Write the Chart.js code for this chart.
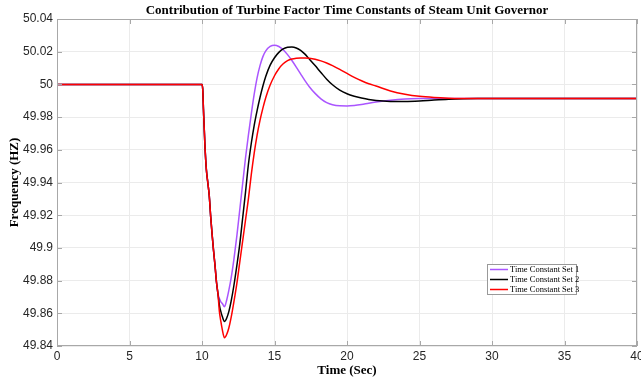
<!DOCTYPE html>
<html>
<head>
<meta charset="utf-8">
<script src="https://cdn.jsdelivr.net/npm/chart.js@4.4.1/dist/chart.umd.min.js"></script>
<style>
  html, body { margin: 0; padding: 0; background: #fff; }
</style>
</head>
<body>
<canvas id="graficaFrecuencia" width="641" height="382"></canvas>
<script>
// Datos
const titulo = "Contribution of Turbine Factor Time Constants of Steam Unit Governor";
const etiquetas = ["Time Constant Set 1", "Time Constant Set 2", "Time Constant Set 3"];
const colores = ["rgb(170, 85, 255)", "#000000", "#ff0000"];

const tiempo = [0, 10, 10.05, 10.1, 10.2, 10.3, 10.4, 10.5, 10.6, 10.7, 10.8, 10.9, 11.0, 11.1,
  11.2, 11.3, 11.4, 11.55, 11.7, 11.85, 12.0, 12.2, 12.4, 12.6, 12.8, 13.0, 13.2, 13.4, 13.6, 13.8,
  14.0, 14.2, 14.4, 14.7, 15.0, 15.3, 15.6, 15.9, 16.2, 16.5, 16.8, 17.1, 17.4, 17.8, 18.2, 18.6,
  19.0, 19.5, 20.0, 20.5, 21.0, 21.5, 22.0, 23.0, 24.0, 25.0, 26.0, 27.0, 28.0, 29.0, 30.0, 40.0];

const set1 = [50, 50, 49.997, 49.985, 49.963, 49.948, 49.940, 49.932, 49.919, 49.908, 49.898, 49.889, 49.879, 49.872,
  49.869, 49.867, 49.866, 49.864, 49.868, 49.874, 49.881, 49.893, 49.907, 49.923, 49.939, 49.955, 49.969, 49.982, 49.994, 50.004,
  50.0115, 50.017, 50.0205, 50.0232, 50.024, 50.0232, 50.0212, 50.0182, 50.0146, 50.0106, 50.0064, 50.0023, 49.9986, 49.9945, 49.9912, 49.9889,
  49.9876, 49.9869, 49.9868, 49.9871, 49.9877, 49.9885, 49.9892, 49.9903, 49.9910, 49.9913, 49.9914, 49.9913, 49.9913, 49.9913, 49.9913, 49.9913];

const set2 = [50, 50, 49.997, 49.985, 49.963, 49.948, 49.940, 49.932, 49.919, 49.908, 49.898, 49.889, 49.879, 49.872,
  49.865, 49.861, 49.858, 49.855, 49.857, 49.861, 49.867, 49.877, 49.889, 49.902, 49.918, 49.934, 49.951, 49.964, 49.975, 49.984,
  49.992, 49.999, 50.005, 50.0118, 50.0163, 50.0196, 50.0217, 50.0227, 50.0229, 50.0223, 50.0208, 50.0185, 50.0155, 50.0115, 50.0073, 50.0032,
  49.9998, 49.9965, 49.9943, 49.9928, 49.9917, 49.9908, 49.9902, 49.9896, 49.9895, 49.9898, 49.9904, 49.9909, 49.9912, 49.9913, 49.9913, 49.9913];

const set3 = [50, 50, 49.997, 49.985, 49.963, 49.948, 49.940, 49.932, 49.919, 49.908, 49.898, 49.889, 49.879, 49.872,
  49.861, 49.855, 49.850, 49.845, 49.847, 49.851, 49.857, 49.867, 49.878, 49.891, 49.904, 49.917, 49.930, 49.945, 49.958, 49.969,
  49.978, 49.9855, 49.992, 49.9996, 50.0053, 50.0096, 50.0126, 50.0145, 50.0155, 50.016, 50.0162, 50.0162, 50.016, 50.0154, 50.0144, 50.0131,
  50.0115, 50.0092, 50.0067, 50.0043, 50.0022, 50.0004, 49.999, 49.996, 49.994, 49.9927, 49.992, 49.9916, 49.9914, 49.9913, 49.9913, 49.9913];

const series = [set1, set2, set3];

// Marco, marcas hacia adentro, titulo y leyenda (estilo MATLAB)
const marcoMatlab = {
  id: "marcoMatlab",
  afterDraw(chart) {
    const { ctx, chartArea: a, scales } = chart;
    ctx.save();
    ctx.strokeStyle = "#a8a8a8";
    ctx.lineWidth = 1;
    ctx.strokeRect(a.left + 0.5, a.top + 0.5, a.width - 1, a.height - 1);

    const raya = (x1, y1, x2, y2) => { ctx.beginPath(); ctx.moveTo(x1, y1); ctx.lineTo(x2, y2); ctx.stroke(); };
    scales.x.ticks.forEach(t => {
      const px = Math.round(scales.x.getPixelForValue(t.value)) + 0.5;
      raya(px, a.bottom, px, a.bottom - 5);
      raya(px, a.top, px, a.top + 5);
    });
    scales.y.ticks.forEach(t => {
      const py = Math.round(scales.y.getPixelForValue(t.value)) + 0.5;
      raya(a.left, py, a.left + 5, py);
      raya(a.right, py, a.right - 5, py);
    });

    // titulo centrado sobre el area del grafico
    ctx.fillStyle = "#000";
    ctx.font = 'bold 13px "Liberation Serif", "Times New Roman", serif';
    ctx.textAlign = "center";
    ctx.textBaseline = "middle";
    ctx.fillText(titulo, (a.left + a.right) / 2, 11);

    // leyenda dentro del area
    const bx = a.right - 150, by = a.bottom - 82, bw = 89, bh = 30;
    ctx.fillStyle = "#fff";
    ctx.fillRect(bx, by, bw, bh);
    ctx.strokeStyle = "#999";
    ctx.strokeRect(bx + 0.5, by + 0.5, bw, bh);
    ctx.font = '8.5px "Liberation Serif", "Times New Roman", serif';
    ctx.textAlign = "left";
    chart.data.datasets.forEach((ds, i) => {
      const y = by + 5.5 + i * 10;
      ctx.strokeStyle = ds.borderColor;
      ctx.lineWidth = 1.5;
      raya(bx + 3, y, bx + 21, y);
      ctx.fillStyle = "#000";
      ctx.fillText(ds.label, bx + 23, y + 0.5);
    });
    ctx.restore();
  }
};

const ctx = document.getElementById("graficaFrecuencia").getContext("2d");
new Chart(ctx, {
  type: "line",
  data: {
    datasets: series.map((s, i) => ({
      label: etiquetas[i],
      data: tiempo.map((t, k) => ({ x: t, y: s[k] })),
      borderColor: colores[i],
      borderWidth: 1.5,
      pointRadius: 0,
      fill: false,
      cubicInterpolationMode: "monotone",
      order: 2 - i
    }))
  },
  options: {
    responsive: false,
    animation: false,
    devicePixelRatio: 1,
    layout: { padding: { top: 19, right: 4, left: 0, bottom: 0 } },
    plugins: {
      legend: { display: false },
      title: { display: false },
      tooltip: { enabled: false }
    },
    scales: {
      x: {
        type: "linear",
        min: 0,
        max: 40,
        ticks: {
          stepSize: 5,
          padding: 3,
          color: "#262626",
          font: { family: '"Liberation Sans", Arial, sans-serif', size: 12 },
          maxRotation: 0
        },
        grid: { color: "#ebebeb", drawTicks: false },
        border: { display: false },
        title: {
          display: true,
          text: "Time (Sec)",
          color: "#000",
          font: { family: '"Liberation Serif", "Times New Roman", serif', size: 13, weight: "bold" },
          padding: { top: 0, bottom: 4 }
        },
        afterFit(scale) {
          scale.height = 36;
          scale.paddingLeft = 0;
          scale.paddingRight = 0;
        }
      },
      y: {
        min: 49.84,
        max: 50.04,
        ticks: {
          stepSize: 0.02,
          padding: 4,
          color: "#262626",
          font: { family: '"Liberation Sans", Arial, sans-serif', size: 12 },
          callback: v => String(Number(v.toFixed(2)))
        },
        grid: { color: "#ebebeb", drawTicks: false },
        border: { display: false },
        title: {
          display: true,
          text: "Frequency (HZ)",
          color: "#000",
          font: { family: '"Liberation Serif", "Times New Roman", serif', size: 13, weight: "bold" },
          padding: { top: 7, bottom: 0 }
        },
        afterFit(scale) {
          scale.width = 57;
          scale.paddingTop = 0;
          scale.paddingBottom = 0;
        }
      }
    }
  },
  plugins: [marcoMatlab]
});
</script>
</body>
</html>
